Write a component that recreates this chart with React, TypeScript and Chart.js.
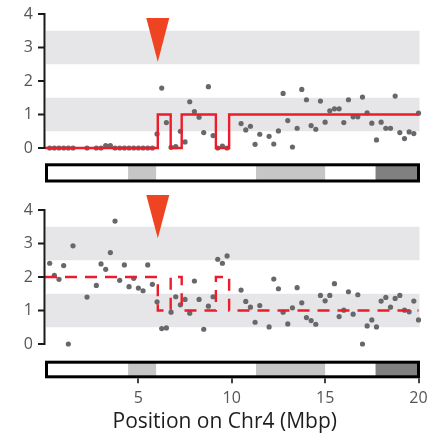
import React, { useEffect, useRef } from "react";
import { Chart, registerables } from "chart.js";

Chart.register(...registerables);

// ---- data ----
const POSITIONS = [
  0.25, 0.5, 0.75, 1, 1.25, 1.5, 2.25, 2.75, 3, 3.25, 3.5, 3.75, 4, 4.25, 4.5, 4.75, 5, 5.25, 5.5, 5.75,
  6, 6.25, 6.5, 6.75, 7, 7.25, 7.5, 7.75, 8, 8.25, 8.5, 8.75, 9, 9.25, 9.5, 9.75, 10.5, 10.75, 11, 11.25,
  11.5, 12, 12.25, 12.5, 12.75, 13, 13.25, 13.5, 13.75, 14, 14.25, 14.5, 14.75, 15, 15.25, 15.5, 15.75, 16,
  16.25, 16.5, 16.75, 17, 17.25, 17.5, 17.75, 18, 18.25, 18.5, 18.75, 19, 19.25, 19.5, 19.75, 20,
];
const TOP_VALUES = [
  0, 0, 0, 0, 0, 0, 0, 0, 0, 0.07, 0.07, 0, 0, 0, 0, 0, 0, 0, 0, 0,
  0.42, 1.79, 0.76, 0.02, 0.04, 0.5, 0.18, 1.38, 1.09, 0.92, 0.46, 1.83, 0.37, 0, 0.06, 0, 0.73, 0.54, 0.65, 0.11,
  0.41, 0.35, 0.12, 0.51, 1.63, 0.82, 0.03, 0.59, 1.75, 1.44, 0.67, 0.56, 1.4, 0.77, 1.11, 1.17, 1.17, 0.76,
  1.44, 0.93, 0.93, 1.52, 1.05, 0.74, 0.24, 0.77, 0.59, 0.59, 1.55, 0.46, 0.28, 0.48, 0.43, 1.04,
];
const BOTTOM_VALUES = [
  2.41, 2.05, 1.93, 2.34, 0.0, 2.93, 1.4, 1.75, 2.39, 2.23, 2.73, 3.67, 1.9, 2.36, 1.71, 1.96, 1.67, 1.59, 2.36, 1.78,
  1.26, 0.46, 0.48, 0.95, 1.41, 1.17, 1.33, 0.92, 1.88, 1.33, 0.44, 1.13, 1.41, 2.53, 2.41, 2.63, 1.61, 1.27, 1.1, 0.65,
  1.15, 0.51, 1.94, 1.65, 0.95, 0.6, 1.08, 1.68, 1.23, 0.79, 0.7, 0.59, 1.45, 1.29, 1.45, 1.8, 0.82, 1.01,
  1.56, 0.89, 1.47, 0.0, 0.54, 0.72, 0.51, 1.28, 1.39, 1.1, 1.36, 1.45, 1.01, 0.96, 1.28, 0.72,
];

const STEP_X = [0, 6.04, 6.73, 7.32, 9.15, 9.86, 20];
const TOP_STEP_Y = [0, 1, 0, 1, 0, 1, 1];
const BOTTOM_STEP_Y = [2, 1, 2, 1, 2, 1, 1];

const Y_TICKS = [0, 1, 2, 3, 4];
const X_TICKS = [5, 10, 15, 20];
const BAND_LOWS = [0.5, 2.5];
const BAND_HIGHS = [1.5, 3.5];

const CHR_STARTS = [4.45, 11.3, 17.7];
const CHR_ENDS = [5.95, 15.0, 20];
const CHR_SHADES = ["#c6c6c6", "#c6c6c6", "#808080"];

const X_MIN = 0;
const X_MAX = 20;
const ARROW_X = 6.04;
const X_TITLE = "Position on Chr4 (Mbp)";

const FONT = "'Open Sans', 'DejaVu Sans', sans-serif";
const RED = "#ec1c2c";
const POINT = "#68686a";
const BAND = "#e6e6e8";
const AXIS = "#1a1a1a";

type PanelCfg = {
  values: number[];
  stepY: number[];
  dashed: boolean;
  arrowTip: number;
  arrowBase: number;
  barOffset: number;
  barHeight: number;
  showX: boolean;
  padTop: number;
  axisHeight: number;
};

function makePlugin(cfg: PanelCfg) {
  return {
    id: "panelDecor",
    beforeDatasetsDraw(chart: any) {
      const { ctx } = chart;
      const x = chart.scales.x;
      const y = chart.scales.y;
      const left = x.getPixelForValue(X_MIN);
      const right = x.getPixelForValue(X_MAX) + 1;
      ctx.save();
      ctx.fillStyle = BAND;
      for (let i = 0; i < BAND_LOWS.length; i++) {
        const t = y.getPixelForValue(BAND_HIGHS[i]);
        const b = y.getPixelForValue(BAND_LOWS[i]);
        ctx.fillRect(left + 1, t, right - left - 1, b - t);
      }
      ctx.restore();
    },
    afterDraw(chart: any) {
      const { ctx } = chart;
      const x = chart.scales.x;
      const y = chart.scales.y;
      const x0 = x.getPixelForValue(X_MIN);
      const x1 = x.getPixelForValue(X_MAX);
      const yBottom = y.getPixelForValue(Y_TICKS[0]);
      const yTop = y.getPixelForValue(Y_TICKS[Y_TICKS.length - 1]);
      ctx.save();
      // y axis line and ticks
      ctx.strokeStyle = AXIS;
      ctx.lineWidth = 2;
      ctx.beginPath();
      ctx.moveTo(x0 - 0.5, yTop - 1);
      ctx.lineTo(x0 - 0.5, yBottom + 1);
      for (const v of Y_TICKS) {
        const py = y.getPixelForValue(v);
        ctx.moveTo(x0 - 7, py);
        ctx.lineTo(x0 - 0.5, py);
      }
      ctx.stroke();
      // arrow
      const ax = x.getPixelForValue(ARROW_X);
      const tipY = y.getPixelForValue(cfg.arrowTip);
      const baseY = y.getPixelForValue(cfg.arrowBase);
      ctx.fillStyle = "#ee4422";
      ctx.beginPath();
      ctx.moveTo(ax - 11.5, baseY);
      ctx.lineTo(ax + 11.5, baseY);
      ctx.lineTo(ax, tipY);
      ctx.closePath();
      ctx.fill();
      // chromosome bar
      const top = yBottom + cfg.barOffset;
      const h = cfg.barHeight;
      ctx.fillStyle = "#ffffff";
      ctx.fillRect(x0 + 1.5, top, x1 - x0 - 3, h);
      for (let i = 0; i < CHR_STARTS.length; i++) {
        const s = x.getPixelForValue(CHR_STARTS[i]);
        const e = x.getPixelForValue(CHR_ENDS[i]);
        ctx.fillStyle = CHR_SHADES[i];
        ctx.fillRect(s, top, e - s, h);
      }
      ctx.strokeStyle = "#000000";
      ctx.lineWidth = 3;
      ctx.strokeRect(x0 + 1.5, top, x1 - x0 - 1.5, h);
      if (cfg.showX) {
        ctx.strokeStyle = "#444444";
        ctx.lineWidth = 2;
        for (const v of X_TICKS) {
          const px = Math.round(x.getPixelForValue(v));
          ctx.beginPath();
          ctx.moveTo(px, top + h + 1.5);
          ctx.lineTo(px, top + h + 6.5);
          ctx.stroke();
        }
        // axis title
        ctx.fillStyle = "#1e1e1e";
        ctx.font = `21px ${FONT}`;
        ctx.textAlign = "center";
        ctx.textBaseline = "middle";
        ctx.fillText(X_TITLE, (x0 + x1) / 2 - 7, yBottom + 78);
      }
      ctx.restore();
    },
  };
}

function Panel({ cfg, width, height }: { cfg: PanelCfg; width: number; height: number }) {
  const ref = useRef<HTMLCanvasElement | null>(null);
  useEffect(() => {
    if (!ref.current) return;
    const chart = new Chart(ref.current, {
      type: "scatter",
      data: {
        datasets: [
          {
            type: "line",
            data: STEP_X.map((p, i) => ({ x: p, y: cfg.stepY[i] })),
            stepped: true,
            borderColor: RED,
            borderWidth: 2.4,
            borderDash: cfg.dashed ? [12, 8] : [],
            pointRadius: 0,
            fill: false,
            showLine: true,
            clip: 3,
          },
          {
            type: "scatter",
            data: POSITIONS.map((p, i) => ({ x: p, y: cfg.values[i] })),
            pointRadius: 2.6,
            pointBackgroundColor: POINT,
            pointBorderWidth: 0,
            clip: false,
          },
        ],
      },
      options: {
        animation: false,
        responsive: false,
        layout: { padding: { top: cfg.padTop, right: 22.5, left: 0, bottom: 0 } },
        plugins: { legend: { display: false }, tooltip: { enabled: false } },
        scales: {
          x: {
            type: "linear",
            min: X_MIN,
            max: X_MAX,
            afterBuildTicks: (s: any) => {
              s.ticks = X_TICKS.map((v) => ({ value: v }));
            },
            afterFit: (s: any) => {
              s.height = cfg.axisHeight;
              s.paddingLeft = 0;
              s.paddingRight = 0;
              s.paddingTop = 0;
              s.paddingBottom = 0;
            },
            border: { display: false },
            grid: { display: false, drawTicks: false },
            ticks: {
              display: cfg.showX,
              padding: 45,
              color: "#555555",
              font: { family: FONT, size: 16 },
              maxRotation: 0,
            },
            title: { display: false },
          },
          y: {
            type: "linear",
            min: 0,
            max: 4,
            afterBuildTicks: (s: any) => {
              s.ticks = Y_TICKS.map((v) => ({ value: v }));
            },
            afterFit: (s: any) => {
              s.width = 45;
              s.paddingTop = 0;
              s.paddingBottom = 0;
              s.paddingLeft = 0;
              s.paddingRight = 0;
            },
            border: { display: false },
            grid: { display: false, drawTicks: false },
            ticks: {
              padding: 12,
              color: "#555555",
              font: { family: FONT, size: 16 },
            },
          },
        },
      },
      plugins: [makePlugin(cfg)],
    } as any);
    return () => chart.destroy();
  }, []);
  return <canvas ref={ref} width={width} height={height} style={{ display: "block", width, height }} />;
}

const TOP_CFG: PanelCfg = {
  values: TOP_VALUES,
  stepY: TOP_STEP_Y,
  dashed: false,
  arrowTip: 2.57,
  arrowBase: 3.88,
  barOffset: 16.8,
  barHeight: 16.2,
  showX: false,
  padTop: 14,
  axisHeight: 42,
};

const BOTTOM_CFG: PanelCfg = {
  values: BOTTOM_VALUES,
  stepY: BOTTOM_STEP_Y,
  dashed: true,
  arrowTip: 3.16,
  arrowBase: 4.45,
  barOffset: 18.2,
  barHeight: 14.6,
  showX: true,
  padTop: 20,
  axisHeight: 95,
};

export default function App() {
  return (
    <div style={{ position: "fixed", left: 0, top: 0, width: 441, height: 439, background: "#fff" }}>
      <div style={{ position: "absolute", left: 0, top: 0 }}>
        <Panel cfg={TOP_CFG} width={441} height={190} />
      </div>
      <div style={{ position: "absolute", left: 0, top: 190 }}>
        <Panel cfg={BOTTOM_CFG} width={441} height={249} />
      </div>
    </div>
  );
}
